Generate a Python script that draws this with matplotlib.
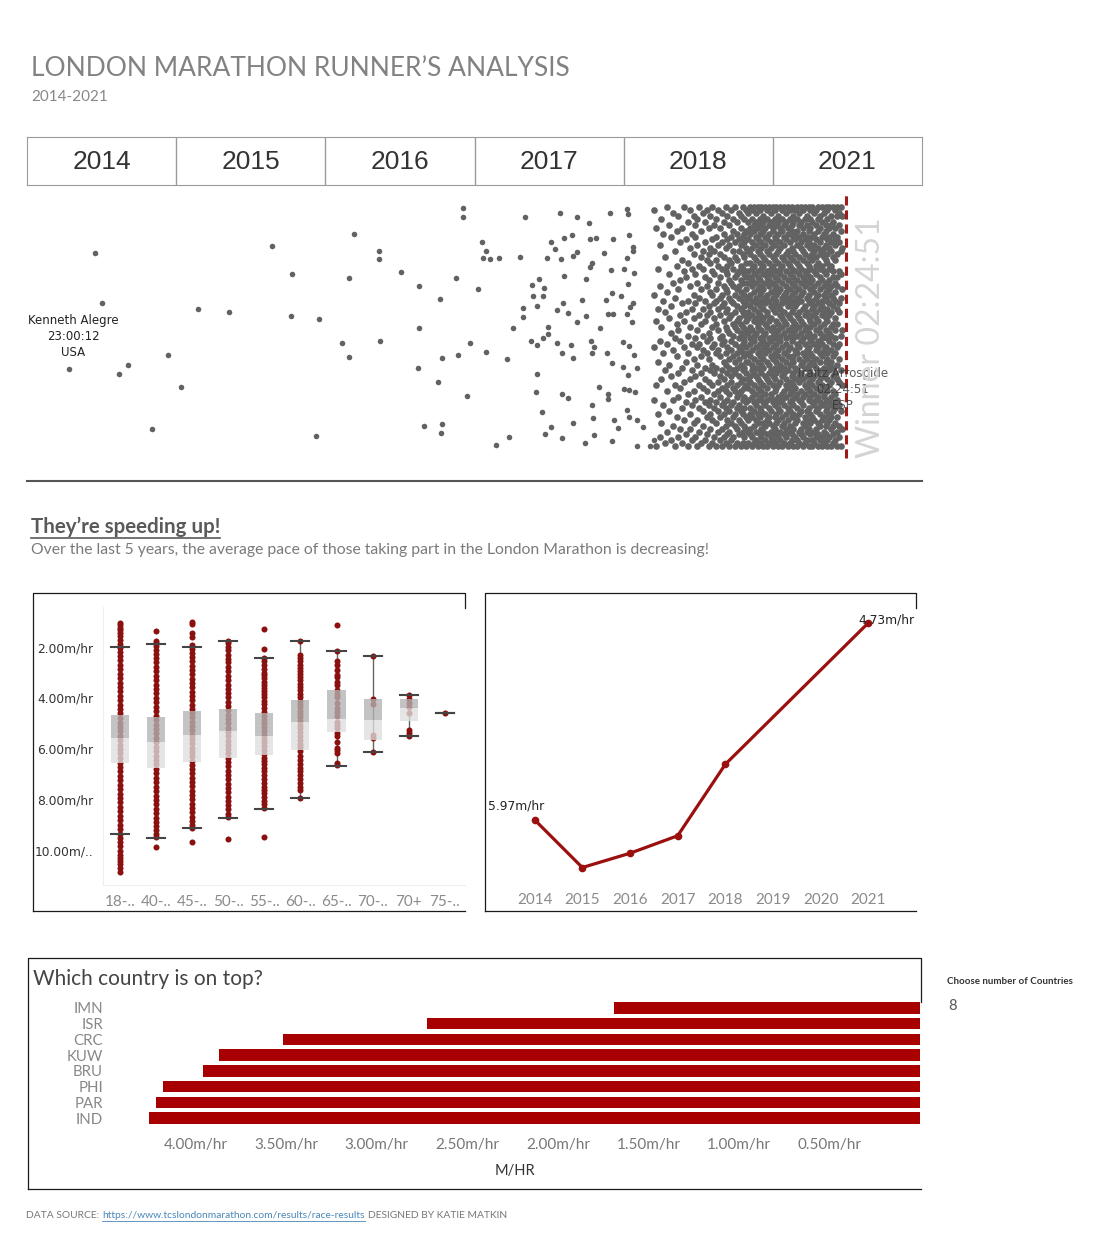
import matplotlib.pyplot as plt

W, H = 1100, 1250
plt.rcParams['font.family'] = ['Lato', 'DejaVu Sans']

# ---- data ----
header_years = ['2014', '2015', '2016', '2017', '2018', '2021']

# single runners (finish time in hours, vertical jitter 0-100)
runner_hours = [23.00, 22.31, 22.13, 21.68, 21.44, 20.38, 20.03, 20.80, 19.58, 18.76,
                17.62, 17.09, 17.12, 16.37, 16.45, 15.45, 15.58, 15.76, 15.58, 14.78,
                14.78, 14.76, 14.20, 13.72, 13.72, 13.75, 13.17, 13.22, 13.59, 13.11,
                13.14, 13.11, 12.74, 12.69, 12.37, 12.45, 12.56, 12.56, 12.05, 11.95,
                12.03, 11.84, 11.60, 12.16, 11.95, 11.68, 11.05, 10.91, 11.39, 11.34,
                11.23, 10.98, 10.96, 10.73, 10.71, 10.54, 10.59, 10.42, 10.43, 10.75,
                10.59, 10.45, 10.30, 10.30, 10.59, 10.64, 10.47, 10.38, 10.22, 9.99,
                10.33, 10.23, 10.12, 9.96, 9.88, 9.67, 9.53, 9.55, 9.64, 9.88,
                10.06, 9.92, 9.78, 10.08, 9.93, 9.70, 9.64, 9.95, 9.77, 9.64,
                9.93, 9.32, 9.55, 9.41, 9.19, 9.19, 9.04, 9.21, 9.31, 9.15,
                9.30, 9.17, 9.09, 9.14, 8.93, 8.96, 9.15, 9.11, 9.08, 8.82,
                8.66, 8.58, 8.65, 8.77, 8.61, 8.72, 8.58, 8.75, 8.60, 8.73,
                8.73, 8.57, 8.62, 8.44, 8.22, 8.20, 8.16, 8.05, 8.06, 8.22,
                8.29, 8.02, 8.18, 8.37, 8.13, 8.05, 8.22, 8.09, 8.33, 8.17,
                8.02, 8.31, 8.18, 7.96, 8.29, 8.15, 8.00, 8.22, 8.15, 7.96,
                7.80, 7.96, 7.60, 7.51]
runner_jitter = [38.4, 78.4, 61.1, 36.7, 39.8, 43.2, 32.2, 17.8, 59.0, 58.0,
                 80.7, 71.0, 56.6, 55.6, 15.4, 84.8, 69.7, 47.3, 42.5, 78.9,
                 76.2, 48.0, 71.7, 66.9, 52.5, 38.7, 62.4, 33.9, 18.8, 19.5,
                 16.4, 42.2, 69.7, 43.2, 47.3, 29.1, 93.7, 90.6, 82.0, 78.9,
                 76.5, 76.2, 76.5, 65.9, 44.2, 12.3, 76.9, 90.7, 41.8, 15.0,
                 52.6, 56.3, 59.3, 67.3, 63.5, 69.3, 60.0, 66.3, 63.5, 48.2,
                 46.6, 49.1, 50.5, 52.8, 36.7, 30.7, 23.6, 16.0, 18.5, 92.0,
                 76.5, 82.0, 79.6, 76.2, 83.4, 84.5, 90.6, 78.8, 77.3, 70.4,
                 58.8, 61.1, 57.6, 47.3, 43.9, 46.7, 42.2, 29.9, 28.4, 19.8,
                 14.7, 13.0, 54.7, 62.2, 73.6, 83.1, 83.4, 88.6, 69.3, 75.0,
                 56.7, 48.2, 46.2, 44.1, 52.5, 32.4, 26.1, 21.5, 15.8, 78.2,
                 92.2, 83.1, 72.5, 62.2, 64.5, 57.4, 57.4, 43.9, 40.4, 29.9,
                 28.1, 21.0, 13.8, 18.1, 93.4, 91.8, 84.5, 80.5, 79.0, 76.5,
                 73.0, 71.4, 67.7, 63.6, 59.9, 61.1, 57.4, 54.7, 47.9, 46.5,
                 43.3, 39.3, 36.4, 38.7, 31.5, 31.3, 30.7, 24.4, 22.1, 21.0,
                 18.7, 12.0, 12.0, 14.1]

# the crowded part of the field: runners grouped by finish time (hours)
cloud_hours = [2.50, 2.55, 2.60, 2.65, 2.70, 2.75, 2.80, 2.85, 2.90, 2.95,
               3.00, 3.05, 3.10, 3.15, 3.20, 3.25, 3.30, 3.35, 3.40, 3.45,
               3.50, 3.55, 3.60, 3.65, 3.70, 3.75, 3.80, 3.85, 3.90, 3.95,
               4.00, 4.05, 4.10, 4.15, 4.20, 4.25, 4.30, 4.35, 4.40, 4.45,
               4.50, 4.55, 4.60, 4.65, 4.70, 4.75, 4.80, 4.85, 4.90, 4.95,
               5.00, 5.05, 5.10, 5.15, 5.20, 5.25, 5.30, 5.35, 5.40, 5.45,
               5.50, 5.55, 5.60, 5.65, 5.70, 5.75, 5.80, 5.85, 5.90, 5.95,
               6.00, 6.05, 6.10, 6.15, 6.20, 6.25, 6.30, 6.35, 6.40, 6.45,
               6.50, 6.55, 6.60, 6.65, 6.70, 6.75, 6.80, 6.85, 6.90, 6.95,
               7.00, 7.05, 7.10, 7.15, 7.20, 7.25, 7.30, 7.35, 7.40, 7.45, 7.50]
cloud_jitter = [
    "18 33 52 66 80 91",
    "12 24 38 50 63 71 79 86 94",
    "15 19 26 34 42 47 58 61 72 82 88 92",
    "12 17 22 28 35 40 46 54 59 67 70 78 84 91 94",
    "14 20 25 27 30 37 44 49 52 56 62 65 68 76 81 83 87 93",
    "13 16 19 24 31 36 39 43 47 54 60 63 70 72 77 85 89 94",
    "12 18 22 26 29 34 41 45 50 53 58 64 67 74 79 82 88 91",
    "15 21 23 28 33 38 40 48 51 57 61 66 69 73 80 84 87 94",
    "12 14 20 25 31 35 42 44 49 55 59 62 68 75 78 83 90 93",
    "16 19 24 27 32 37 41 46 52 56 63 65 71 76 81 86 88 94",
    "13 17 22 29 30 36 39 45 50 54 58 64 67 72 77 80 85 92",
    "12 15 21 26 33 38 43 47 49 57 60 62 69 74 79 84 89 94",
    "14 19 23 27 31 35 41 44 51 53 59 66 70 73 78 82 87 91",
    "12 16 20 25 29 34 37 46 48 55 61 64 68 75 80 86 90 94",
    "15 18 24 28 32 39 42 45 52 56 58 63 71 74 77 83 88 93",
    "13 17 21 26 30 36 40 47 50 54 60 65 67 72 79 81 85 92",
    "12 14 22 27 33 35 41 43 49 57 59 62 69 76 78 84 89 94",
    "16 20 23 29 31 37 44 48 53 55 61 66 70 73 80 87 90 93",
    "12 18 25 28 34 38 40 46 51 56 62 64 68 74 77 82 86 94",
    "14 17 21 24 32 36 42 45 50 53 58 63 71 75 81 84 88 91",
    "13 19 22 30 33 39 43 47 52 57 60 67 69 72 78 83 90 94",
    "12 15 20 26 29 35 41 44 49 54 59 65 70 76 79 85 87 93",
    "16 18 24 27 31 37 40 48 51 55 62 64 68 73 80 82 89 94",
    "13 17 23 28 34 36 42 46 53 56 58 66 71 74 77 84 88 92",
    "12 14 21 25 30 38 44 47 50 57 61 63 69 75 81 86 90 94",
    "15 20 22 29 32 35 39 45 52 54 60 65 67 72 78 83 85 93",
    "12 18 23 26 33 37 41 43 49 55 59 62 70 76 79 84 89 91",
    "14 16 22 28 31 36 42 48 51 53 58 64 68 73 80 86 88 94",
    "13 19 24 27 30 34 40 46 50 56 61 66 71 74 77 82 90 93",
    "12 17 21 25 32 38 43 45 52 57 60 63 69 75 79 85 87 94",
    "15 18 23 29 33 35 41 47 49 54 62 65 67 72 78 83 89 92",
    "13 16 20 26 31 37 39 44 51 55 58 64 70 76 81 84 88 94",
    "12 19 22 28 30 36 42 46 53 56 61 63 68 74 77 86 90 93",
    "14 17 24 27 34 38 40 48 50 57 59 66 71 73 80 82 87 94",
    "12 15 21 25 29 33 43 45 52 54 60 65 69 75 79 85 89 91",
    "16 20 23 28 32 37 41 47 49 55 62 64 67 72 78 83 88 94",
    "13 18 22 26 31 35 39 44 51 58 61 66 70 76 81 84 90 93",
    "12 14 19 27 33 36 42 46 50 53 59 63 68 74 77 86 87 94",
    "15 17 24 29 30 38 43 48 52 56 60 65 71 73 80 82 89 92",
    "13 20 22 25 34 37 40 45 49 55 62 67 69 75 78 85 88 94",
    "12 16 21 28 32 35 41 47 53 57 58 64 70 72 79 83 90 93",
    "14 19 23 26 30 36 44 46 51 54 61 63 68 76 81 84 87 94",
    "12 17 20 27 33 39 42 48 50 56 59 66 71 74 77 86 89 91",
    "15 18 24 29 31 37 40 45 52 55 62 65 67 73 80 82 88 94",
    "13 16 22 25 34 38 43 47 49 57 60 64 69 75 78 85 90 93",
    "12 20 23 28 32 35 41 44 53 54 58 66 70 72 79 83 87 94",
    "14 17 21 26 30 36 39 46 51 56 61 63 68 76 81 84 89 92",
    "13 19 24 27 33 37 42 48 50 55 59 65 71 74 77 86 88 94",
    "12 15 22 29 31 38 40 45 52 57 62 67 69 73 80 82 90 93",
    "16 18 23 25 34 36 43 47 49 53 60 64 70 75 78 85 87 94",
    "13 17 21 28 32 35 41 44 51 56 58 63 68 72 79 83 89 92",
    "12 18 22 27 33 37 41 46 52 55 61 66 70 75 80 86 93",
    "15 19 25 29 32 39 43 48 50 57 60 64 71 77 82 85 90",
    "13 17 23 28 35 38 44 47 53 58 62 68 73 78 84 94",
    "12 20 24 31 34 40 45 51 54 59 65 69 74 81 87 91",
    "16 21 26 30 36 42 46 49 56 63 67 72 79 83 92",
    "13 18 25 29 33 39 44 52 55 60 66 71 76 85 89",
    "12 19 23 31 37 41 47 53 58 64 70 77 82 94",
    "15 22 27 32 38 43 50 54 61 67 73 79 86 90",
    "14 20 26 34 36 45 48 57 62 68 75 84 93",
    "12 17 24 30 39 42 51 56 63 69 76 81 88",
    "16 21 28 33 37 46 52 59 65 71 74 83 91",
    "13 19 25 31 40 44 53 58 66 72 80 94",
    "15 23 27 35 41 48 55 61 67 77 85 89",
    "12 18 26 32 38 47 50 60 64 73 82 92",
    "14 22 29 36 43 49 57 63 70 78 87",
    "17 24 31 34 45 52 59 68 74 81 93",
    "12 20 27 39 44 54 62 66 76 84 90",
    "15 25 30 37 47 56 61 71 79 88",
    "13 21 33 40 46 53 64 72 83 94",
    "18 23 28 38 49 58 65 75 80 91",
    "12 26 34 42 51 60 69 78 87",
    "16 22 31 44 48 57 67 76 93",
    "14 27 35 39 55 62 70 82 89",
    "19 24 32 45 50 59 73 79 92",
    "13 29 37 43 54 66 77 86",
    "17 25 33 47 57 63 74 94",
    "12 21 40 46 52 68 81 90",
    "15 28 36 49 61 71 84 88",
    "20 31 42 56 64 78 91",
    "14 26 38 47 59 73 85",
    "18 23 35 53 67 80 93",
    "12 30 44 50 62 75 89",
    "16 27 41 58 70 83",
    "21 34 46 55 72 94",
    "13 25 39 61 76 87",
    "18 32 48 57 69 82",
    "15 29 37 52 66 91",
    "22 43 54 74 86",
    "12 33 49 63 79",
    "19 28 45 68 92",
    "14 36 51 60 84",
    "24 40 56 71 88",
    "17 31 47 65 94",
    "13 38 58 77",
    "26 44 62 85",
    "20 35 53 90",
    "15 48 67 81",
    "23 41 59 73",
    "12 33 55 87",
    "28 46 64 93",
]
winner_hours = 2.414   # 02:24:51

# pace by age group (box plot)
age_groups = ['18-..', '40-..', '45-..', '50-..', '55-..', '60-..', '65-..', '70-..', '70+', '75-..']
whisker_top = [1.97, 1.86, 1.97, 1.74, 2.41, 1.74, 2.14, 2.34, 3.88, 4.58]
box_q1 = [4.68, 4.75, 4.52, 4.43, 4.60, 4.09, 3.68, 4.04, 4.04, 4.58]
box_median = [5.56, 5.73, 5.48, 5.29, 5.52, 4.95, 4.81, 4.87, 4.38, 4.58]
box_q3 = [6.58, 6.77, 6.51, 6.38, 6.25, 6.06, 5.35, 5.67, 4.91, 4.58]
whisker_bottom = [9.35, 9.51, 9.15, 8.73, 8.38, 7.94, 6.68, 6.14, 5.52, 4.58]
age_pace = [
    [1.05, 1.13, 1.22, 1.31, 1.42, 1.55, 1.7, 1.86, 2.02, 2.18, 2.35, 2.52, 2.7, 2.87, 3.04, 3.21,
     3.39, 3.56, 3.74, 3.91, 4.08, 4.26, 4.44, 4.61, 4.79, 4.97, 5.14, 5.31, 5.49, 5.66, 5.84, 6.02,
     6.19, 6.37, 6.55, 6.72, 6.9, 7.07, 7.25, 7.42, 7.6, 7.77, 7.95, 8.12, 8.3, 8.47, 8.65, 8.82,
     9.0, 9.17, 9.35, 9.52, 9.7, 9.86, 10.02, 10.18, 10.3, 10.42, 10.55, 10.7, 10.85],
    [1.34, 1.75, 1.84, 1.95, 2.1, 2.27, 2.44, 2.6, 2.78, 2.95, 3.12, 3.3, 3.47, 3.65, 3.82, 4.0,
     4.17, 4.35, 4.52, 4.7, 4.87, 5.05, 5.22, 5.4, 5.57, 5.75, 5.92, 6.1, 6.27, 6.45, 6.62, 6.8,
     6.97, 7.15, 7.32, 7.5, 7.67, 7.85, 8.02, 8.2, 8.37, 8.55, 8.72, 8.9, 9.07, 9.22, 9.37, 9.5, 9.9],
    [1.01, 1.1, 1.45, 1.58, 1.9, 2.05, 2.22, 2.39, 2.56, 2.73, 2.9, 3.07, 3.24, 3.41, 3.58, 3.75,
     3.92, 4.09, 4.26, 4.43, 4.6, 4.77, 4.94, 5.11, 5.28, 5.45, 5.62, 5.79, 5.96, 6.13, 6.3, 6.47,
     6.64, 6.81, 6.98, 7.15, 7.32, 7.49, 7.66, 7.83, 8.0, 8.17, 8.34, 8.51, 8.68, 8.85, 9.0, 9.14, 9.69],
    [1.74, 1.85, 2.0, 2.12, 2.3, 2.45, 2.6, 2.78, 2.95, 3.12, 3.3, 3.47, 3.64, 3.81, 3.98, 4.15,
     4.32, 4.49, 4.66, 4.83, 5.0, 5.17, 5.34, 5.51, 5.68, 5.85, 6.02, 6.19, 6.36, 6.53, 6.7, 6.87,
     7.04, 7.21, 7.38, 7.55, 7.72, 7.89, 8.06, 8.23, 8.4, 8.56, 8.7, 9.56],
    [1.28, 2.08, 2.42, 2.55, 2.7, 2.85, 3.0, 3.1, 3.22, 3.35, 3.48, 3.6, 3.73, 3.85, 3.98, 4.1,
     4.25, 4.4, 4.55, 4.7, 4.85, 5.0, 5.15, 5.3, 5.45, 5.6, 5.75, 5.9, 6.05, 6.2, 6.35, 6.5, 6.62,
     6.78, 6.9, 7.05, 7.2, 7.35, 7.5, 7.62, 7.75, 7.9, 8.05, 8.2, 8.35, 9.48],
    [1.74, 2.3, 2.42, 2.55, 2.68, 2.8, 2.95, 3.05, 3.18, 3.3, 3.45, 3.55, 3.7, 3.85, 3.95, 4.1,
     4.22, 4.35, 4.5, 4.62, 4.75, 4.9, 5.05, 5.2, 5.35, 5.5, 5.65, 5.8, 5.95, 6.1, 6.3, 6.45, 6.6,
     6.75, 6.9, 7.05, 7.2, 7.35, 7.5, 7.62, 7.94],
    [1.12, 2.14, 2.54, 2.7, 2.9, 3.09, 3.18, 3.35, 3.49, 3.68, 3.84, 3.95, 4.21, 4.41, 4.54, 4.73,
     4.93, 5.06, 5.2, 5.39, 5.52, 5.72, 5.98, 6.05, 6.18, 6.55, 6.64],
    [2.34, 4.04, 4.25, 5.46, 5.59, 6.14],
    [3.88, 4.04, 4.18, 4.34, 4.6, 5.26, 5.39, 5.52],
    [4.58],
]

# average pace per year (line chart)
years = [2014, 2015, 2016, 2017, 2018, 2021]
avg_pace = [5.97, 6.27, 6.18, 6.07, 5.62, 4.73]

# average pace per country (bar chart)
countries = ['IND', 'PAR', 'PHI', 'BRU', 'KUW', 'CRC', 'ISR', 'IMN']
country_pace = [4.26, 4.22, 4.18, 3.96, 3.87, 3.52, 2.72, 1.69]

# ---- drawing helpers in pixel units ----
fig = plt.figure(figsize=(W / 100, H / 100), dpi=100)


def px_ax(x0, y0, x1, y1):
    return fig.add_axes([x0 / W, 1 - y1 / H, (x1 - x0) / W, (y1 - y0) / H])


def px_line(xs, ys, color='#1a1a1a', lw=0.9):
    fig.add_artist(plt.Line2D([x / W for x in xs], [1 - y / H for y in ys],
                              color=color, lw=lw, transform=fig.transFigure))


def px_text(x, y, s, **kw):
    return fig.text(x / W, 1 - y / H, s, **kw)


# titles
px_text(31, 69, 'LONDON MARATHON RUNNER\u2019S ANALYSIS', fontsize=19, color='#828282',
        va='center')
px_text(31, 97, '2014-2021', fontsize=11, color='#888888', va='center')

# year header
hd = px_ax(27, 137, 922, 185)
hd.set_xlim(0, 6)
hd.set_ylim(0, 1)
for i, yr in enumerate(header_years):
    hd.text(i + 0.5, 0.48, yr, ha='center', va='center', fontsize=19, color='#333333',
            family=['Liberation Sans', 'DejaVu Sans'])
    if i > 0:
        hd.axvline(i, color='#9a9a9a', lw=1)
for s in hd.spines.values():
    s.set_color('#9a9a9a')
hd.set_xticks([])
hd.set_yticks([])

# runners scatter
sc = px_ax(27, 190, 922, 481)
cloud_x, cloud_y = [], []
for h, col in zip(cloud_hours, cloud_jitter):
    for v in col.split():
        cloud_x.append(h)
        cloud_y.append(float(v))
sc.scatter(runner_hours, runner_jitter, s=16, color='#626262', linewidths=0)
sc.scatter(cloud_x, cloud_y, s=23, color='#626262', linewidths=0)
sc.plot([winner_hours, winner_hours], [7.9, 98.3], color='#9e1b1b', lw=2.2,
        linestyle=(0, (3, 1.6)))
sc.text(22.905, 49.5, 'Kenneth Alegre\n23:00:12\nUSA', ha='center', va='center',
        fontsize=8.5, color='#222222', family='DejaVu Sans', linespacing=1.3)
sc.text(2.486, 31.6, 'Iraitz Arrospide\n02:24:51\nESP', ha='center', va='center',
        fontsize=8.5, color='#333333', alpha=0.8, family='DejaVu Sans', linespacing=1.3)
sc.set_xlim(24.125, 0.391)
sc.set_ylim(0, 100)
for k in ['top', 'left', 'right']:
    sc.spines[k].set_visible(False)
sc.spines['bottom'].set_color('#555555')
sc.spines['bottom'].set_linewidth(1.5)
sc.set_xticks([])
sc.set_yticks([])
px_text(871, 338, 'Winner 02:24:51', rotation=90, fontsize=23, color='#d4d4d4',
        ha='center', va='center')

# section heading
head = px_text(31, 527, 'They\u2019re speeding up!', fontsize=14.8, fontweight='bold',
               color='#5a5a5a', va='center')
px_text(31, 550, 'Over the last 5 years, the average pace of those taking part in the London '
        'Marathon is decreasing!', fontsize=11.3, color='#7a7a7a', va='center')

# panel frames
px_line([33, 33, 465, 465], [911, 593, 593, 608])
px_line([33, 465], [911, 911])
px_line([485, 485, 916, 916], [911, 593, 593, 608])
px_line([485, 916], [911, 911])
px_line([28, 28, 921, 921], [1189, 958, 958, 1002])
px_line([28, 921], [1189, 1189])

# box plot by age group
bx = px_ax(103, 607, 465, 885)
for i, vals in enumerate(age_pace):
    bx.plot([i, i], [whisker_top[i], whisker_bottom[i]], color='#666666', lw=1, zorder=1)
    bx.scatter([i] * len(vals), vals, s=19, color='#8b1111', linewidths=0, zorder=2)
    bx.bar(i, box_median[i] - box_q1[i], bottom=box_q1[i], width=0.5, color='#b3b3b3',
           alpha=0.78, zorder=3)
    bx.bar(i, box_q3[i] - box_median[i], bottom=box_median[i], width=0.5, color='#dedede',
           alpha=0.78, zorder=3)
    for w in (whisker_top[i], whisker_bottom[i]):
        bx.plot([i - 0.25, i + 0.25], [w, w], color='#444444', lw=1.5, zorder=4)
bx.set_xlim(-0.47, 9.56)
bx.set_ylim(11.38, 0.41)
bx.set_yticks([2, 4, 6, 8, 10])
bx.set_yticklabels(['2.00m/hr', '4.00m/hr', '6.00m/hr', '8.00m/hr', '10.00m/..'],
                   fontsize=8.8, color='#333333', family='DejaVu Sans')
bx.set_xticks(range(len(age_groups)))
bx.set_xticklabels(age_groups, fontsize=11, color='#8a8a8a')
bx.tick_params(length=0, pad=7)
for k in ['top', 'right']:
    bx.spines[k].set_visible(False)
for k in ['left', 'bottom']:
    bx.spines[k].set_color('#eeeeee')

# line chart by year
ln = px_ax(487, 607, 916, 885)
ln.plot(years, avg_pace, color='#9b0f0f', lw=2.3, marker='o', ms=4.5)
ln.annotate('5.97m/hr', (years[0], avg_pace[0]), xytext=(-19, 14), textcoords='offset pixels',
            ha='center', va='center', fontsize=8.8, color='#222222', family='DejaVu Sans')
ln.annotate('4.73m/hr', (years[-1], avg_pace[-1]), xytext=(18, 3), textcoords='offset pixels',
            ha='center', va='center', fontsize=8.8, color='#222222', family='DejaVu Sans')
ln.set_xlim(2013.0, 2022.0)
ln.set_ylim(6.38, 4.63)
ln.set_xticks(range(2014, 2022))
ln.set_xticklabels([str(y) for y in range(2014, 2022)], fontsize=11, color='#8a8a8a')
ln.set_yticks([])
ln.tick_params(length=0, pad=6)
for s in ln.spines.values():
    s.set_visible(False)

# country bar chart
px_text(33, 979, 'Which country is on top?', fontsize=15, color='#444444', va='center')
br = px_ax(110, 1000, 920, 1126)
br.barh(range(len(countries)), country_pace, height=0.73, color='#a80000')
br.set_xlim(4.473, 0)
br.set_ylim(-0.5, len(countries) - 0.5)
br.set_yticks(range(len(countries)))
br.set_yticklabels(countries, fontsize=10.8, color='#888888')
br.set_xticks([4.0, 3.5, 3.0, 2.5, 2.0, 1.5, 1.0, 0.5])
br.set_xticklabels(['4.00m/hr', '3.50m/hr', '3.00m/hr', '2.50m/hr', '2.00m/hr', '1.50m/hr',
                    '1.00m/hr', '0.50m/hr'], fontsize=11, color='#777777')
br.tick_params(length=0)
br.tick_params(axis='y', pad=5)
br.tick_params(axis='x', pad=9)
for s in br.spines.values():
    s.set_visible(False)
px_text(515, 1171, 'M/HR', ha='center', va='center', fontsize=10.5, color='#333333')

px_text(947, 982, 'Choose number of Countries', fontsize=7, fontweight='bold',
        color='#333333', va='center')
px_text(948, 1006, '8', fontsize=10.5, color='#555555', va='center')

# footer
f1 = px_text(26, 1216, 'DATA SOURCE:', fontsize=7.4, color='#777777', va='center')
fig.canvas.draw()
rend = fig.canvas.get_renderer()
bb = f1.get_window_extent(rend)
f2 = fig.text((bb.x1 + 3) / W, 1 - 1216 / H, 'https://www.tcslondonmarathon.com/results/race-results',
              fontsize=7.4, color='#4a86b8', va='center')
bb2 = f2.get_window_extent(rend)
fig.text((bb2.x1 + 3) / W, 1 - 1216 / H, 'DESIGNED BY KATIE MATKIN', fontsize=7.4,
         color='#777777', va='center')
fig.add_artist(plt.Line2D([bb2.x0 / W, bb2.x1 / W], [(bb2.y0 - 0.5) / H] * 2, color='#4a86b8',
                          lw=0.6, transform=fig.transFigure))
bbh = head.get_window_extent(rend)
fig.add_artist(plt.Line2D([bbh.x0 / W, bbh.x1 / W], [(bbh.y0 - 0.5) / H] * 2, color='#5a5a5a',
                          lw=1.2, transform=fig.transFigure))

fig.savefig('out.png', dpi=100)
